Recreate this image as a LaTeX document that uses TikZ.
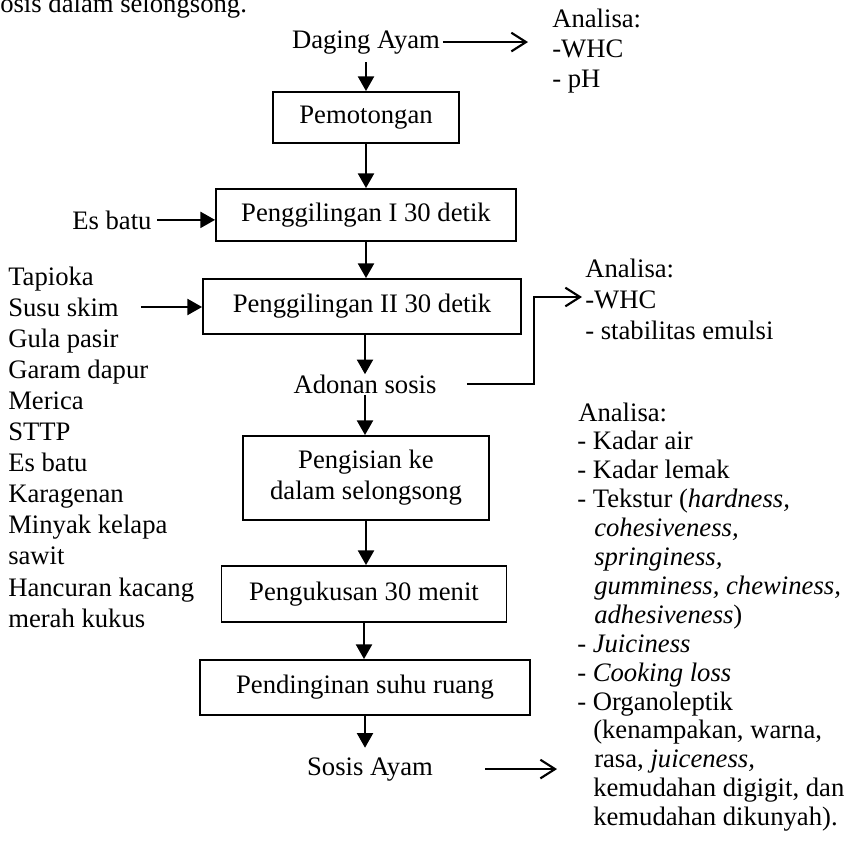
\documentclass[tikz,border=0pt]{standalone}
\usepackage{fontspec}
\setmainfont{Liberation Serif}
\usetikzlibrary{arrows.meta}
\begin{document}
\begin{tikzpicture}[x=0.75pt,y=-0.75pt,
  txt/.style={font=\fontsize{20pt}{23pt}\selectfont, inner sep=0pt},
  box/.style={draw, line width=1.4pt, font=\fontsize{20pt}{23.25pt}\selectfont, inner sep=0pt, align=center},
  darr/.style={line width=1.6pt, -{Triangle[length=11pt,width=12pt]}},
  oarr/.style={line width=1.6pt, -{Straight Barb[length=11pt,width=14pt]}}]
\useasboundingbox (0,0) rectangle (856,851);

% cut-off caption line
\node[txt, anchor=base west] (cap) at (0,12) {osis dalam selongsong.};

% main column
\node[txt, anchor=base] (DA) at (366,48) {Daging Ayam};
\node[box, minimum width=139.5pt, minimum height=38.25pt] (P) at (366,117.5) {Pemotongan};
\node[box, minimum width=225pt, minimum height=39pt] (G1) at (366,215) {Penggilingan I 30 detik};
\node[box, minimum width=238.5pt, minimum height=41.25pt] (G2) at (362,306.5) {Penggilingan II 30 detik};
\node[txt, anchor=base] (AS) at (365,393) {Adonan sosis};
\node[box, minimum width=184.5pt, minimum height=63pt] (PI) at (366,478) {Pengisian ke\\dalam selongsong};
\node[box, minimum width=213.75pt, minimum height=42pt] (PK) at (364,594) {Pengukusan 30 menit};
\node[box, minimum width=247.5pt, minimum height=41.25pt] (PD) at (365,687.5) {Pendinginan suhu ruang};
\node[txt, anchor=base] (SA) at (370,775) {Sosis Ayam};

% inputs
\node[txt, anchor=base west] (EB) at (72,229) {Es batu};
\foreach \t [count=\i] in {Tapioka, Susu skim, Gula pasir, Garam dapur, Merica, STTP, Es batu, Karagenan, Minyak kelapa, sawit, Hancuran kacang, merah kukus}
  \node[txt, anchor=base west] (L\i) at (8,{285+31.1*(\i-1)}) {\t};

% analyses
\foreach \t [count=\i] in {Analisa:, -WHC, - pH}
  \node[txt, anchor=base west] (A1-\i) at (552,{27+30*(\i-1)}) {\t};
\foreach \t [count=\i] in {Analisa:, -WHC, - stabilitas emulsi}
  \node[txt, anchor=base west] (A2-\i) at (585,{277+31*(\i-1)}) {\t};
\foreach \dx/\t [count=\i] in {578/{Analisa:}, 577/{- Kadar air}, 577/{- Kadar lemak},
   577/{- Tekstur (\textit{hardness,}}, 594/{\textit{cohesiveness,}}, 594/{\textit{springiness,}},
   594/{\textit{gumminess, chewiness,}}, 594/{\textit{adhesiveness})}, 577/{- \textit{Juiciness}},
   577/{- \textit{Cooking loss}}, 577/{- Organoleptik}, 593/{(kenampakan, warna,},
   594/{rasa, \textit{juiceness,}}, 593/{kemudahan digigit, dan}, 593/{kemudahan dikunyah).}}
  \node[txt, anchor=base west] (A3-\i) at (\dx,{421+28.9*(\i-1)}) {\t};

% connectors
\coordinate (t1) at (528,0);
\coordinate (k2) at (534,297);
\coordinate (t2) at (582,297);
\coordinate (t3) at (557,0);

\draw[darr, shorten <=6pt] (DA.south) -- (DA.south |- P.north);
\draw[darr] (P.south) -- (P.south |- G1.north);
\draw[darr] (G1.south) -- (G1.south |- G2.north);
\draw[darr] (G2.south -| AS.north) -- (AS.north);
\draw[darr, shorten <=1pt] (AS.south) -- (AS.south |- PI.north);
\draw[darr] (PI.south) -- (PI.south |- PK.north);
\draw[darr] (PK.south) -- (PK.south |- PD.north);
\draw[darr, shorten >=7pt] (PD.south) -- (PD.south |- SA.north);

\draw[darr, shorten <=4pt] (EB.east) -- (EB.east -| G1.west);
\draw[darr, shorten <=16.5pt] (L2.east) -- (L2.east -| G2.west);

\draw[oarr, shorten <=2pt] (DA.east) -- (DA.east -| t1);
\draw[oarr, shorten <=22.5pt] (AS.east) -| (k2) -- (t2);
\draw[oarr, shorten <=39pt] (SA.east) -- (SA.east -| t3);
\end{tikzpicture}
\end{document}
